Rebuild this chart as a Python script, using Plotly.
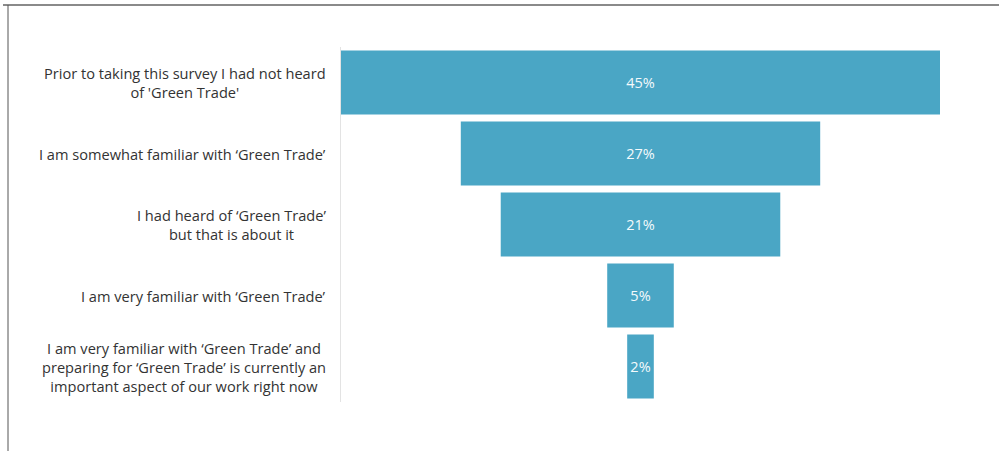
import plotly.graph_objects as go

categories = [
    "Prior to taking this survey I had not heard<br>of 'Green Trade'",
    "I am somewhat familiar with ‘Green Trade’",
    "I had heard of ‘Green Trade’<br>but that is about it",
    "I am very familiar with ‘Green Trade’",
    "I am very familiar with ‘Green Trade’ and<br>preparing for ‘Green Trade’ is currently an<br>important aspect of our work right now",
]
values = [45, 27, 21, 5, 2]
value_labels = ["45%", "27%", "21%", "5%", "2%"]

fig = go.Figure()
fig.add_trace(go.Funnel(
    y=list(range(len(categories))),
    x=values,
    text=value_labels,
    textinfo="text",
    textposition="inside",
    insidetextfont=dict(color="#f4fafc", size=14.5, family="Open Sans"),
    marker=dict(color="#4AA6C5", line=dict(width=0)),
    connector=dict(visible=False),
    width=0.9,
    hoverinfo="skip",
))

for i, c in enumerate(categories):
    fig.add_annotation(
        x=0, xref="paper", y=i, yref="y",
        text=c, showarrow=False, xanchor="right", align="center",
        xshift=-13, font=dict(size=14.6, color="#333333", family="Open Sans"),
    )

W, H = 999, 451
L, R, T, B = 341, 59, 47, 49
pw, ph = W - L - R, H - T - B
def px(x): return (x - L) / pw
def py(y): return (H - B - y) / ph

fig.add_shape(type="line", xref="paper", yref="paper",
              x0=px(3), x1=px(999), y0=py(5), y1=py(5),
              line=dict(color="#8a8a8a", width=2))
fig.add_shape(type="line", xref="paper", yref="paper",
              x0=px(8), x1=px(8), y0=py(5), y1=py(451),
              line=dict(color="#555555", width=1))

fig.update_layout(
    width=W, height=H,
    margin=dict(l=L, r=R, t=T, b=B),
    paper_bgcolor="white", plot_bgcolor="white",
    showlegend=False,
    xaxis=dict(visible=False, range=[-22.5, 22.5]),
    yaxis=dict(showticklabels=False, showgrid=False, zeroline=False,
               showline=True, linecolor="#e3e3e3", linewidth=1,
               range=[4.5, -0.5], autorange=False),
    font=dict(family="Open Sans"),
)

fig.write_html("out.html", config={"displayModeBar": False},
               post_script="document.body.style.margin='0';document.body.style.overflow='hidden';")
